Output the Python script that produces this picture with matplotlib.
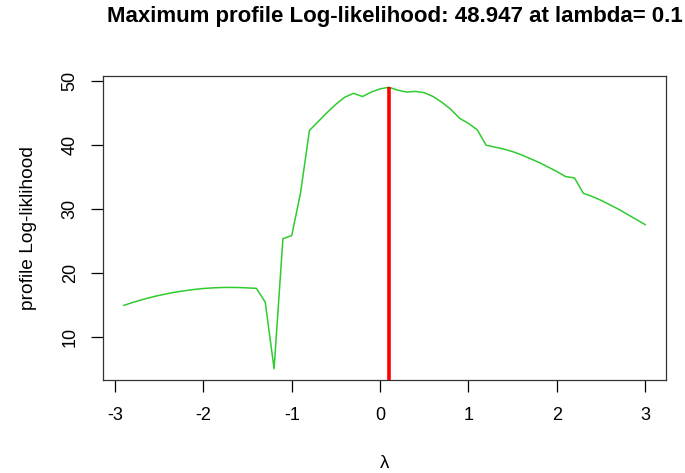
import numpy as np
import matplotlib.pyplot as plt

plt.rcParams['font.family'] = ['Liberation Sans', 'DejaVu Sans']
plt.rcParams['axes.unicode_minus'] = False

# profile log-likelihood over the lambda grid
lam = [-2.9, -2.8, -2.7, -2.6, -2.5, -2.4, -2.3, -2.2, -2.1, -2.0,
       -1.9, -1.8, -1.7, -1.6, -1.5, -1.4, -1.3, -1.2, -1.1, -1.0,
       -0.9, -0.8, -0.7, -0.6, -0.5, -0.4, -0.3, -0.2, -0.1, 0.0,
       0.1, 0.2, 0.3, 0.4, 0.5, 0.6, 0.7, 0.8, 0.9, 1.0,
       1.1, 1.2, 1.3, 1.4, 1.5, 1.6, 1.7, 1.8, 1.9, 2.0,
       2.1, 2.2, 2.3, 2.4, 2.5, 2.6, 2.7, 2.8, 2.9, 3.0]
loglik = [14.9, 15.35, 15.76, 16.13, 16.46, 16.75, 17.0, 17.2, 17.39, 17.53,
          17.62, 17.68, 17.7, 17.68, 17.62, 17.55, 15.4, 5.0, 25.3, 25.8,
          32.5, 42.2, 43.6, 45.0, 46.3, 47.4, 48.0, 47.5, 48.2, 48.7,
          48.947, 48.5, 48.2, 48.3, 48.1, 47.5, 46.6, 45.5, 44.1, 43.3,
          42.3, 39.9, 39.6, 39.3, 38.9, 38.4, 37.8, 37.2, 36.5, 35.8,
          35.0, 34.8, 32.4, 31.9, 31.3, 30.6, 29.9, 29.1, 28.3, 27.5]
best_lam = 0.1
best_ll = 48.947

fig = plt.figure(figsize=(6.85, 4.73), dpi=100)
ax = fig.add_axes([0.1504, 0.1966, 0.8219, 0.6427])

ax.plot(lam, loglik, '-', color='#2ecc2e', linewidth=1.1)

# R-style 4% padding
xr = max(lam) - min(lam)
yr = max(loglik) - min(loglik)
ax.set_xlim(min(lam) - 0.04 * xr, max(lam) + 0.04 * xr)
ax.set_ylim(min(loglik) - 0.04 * yr, max(loglik) + 0.04 * yr)
ax.vlines(best_lam, ax.get_ylim()[0], best_ll, color='#ff0000', linewidth=2.6)

ax.set_xticks([-3, -2, -1, 0, 1, 2, 3])
ax.set_yticks([10, 20, 30, 40, 50])
ax.tick_params(direction='out', length=8.5, width=0.9, labelsize=13, pad=11)
ax.tick_params(axis='y', pad=9)
for lab in ax.get_yticklabels():
    lab.set_rotation(90)
    lab.set_va('center')
for s in ax.spines.values():
    s.set_linewidth(0.9)
    s.set_color('#333333')

ax.set_xlabel('λ', fontsize=13.5, labelpad=22)
ax.set_ylabel('profile Log-liklihood', fontsize=13.8, labelpad=18)
fig.suptitle(f'Maximum profile Log-likelihood: {best_ll} at lambda= {best_lam}',
             fontsize=16, fontweight='bold', x=0.577, y=0.988)

plt.savefig('out.png', dpi=100)
